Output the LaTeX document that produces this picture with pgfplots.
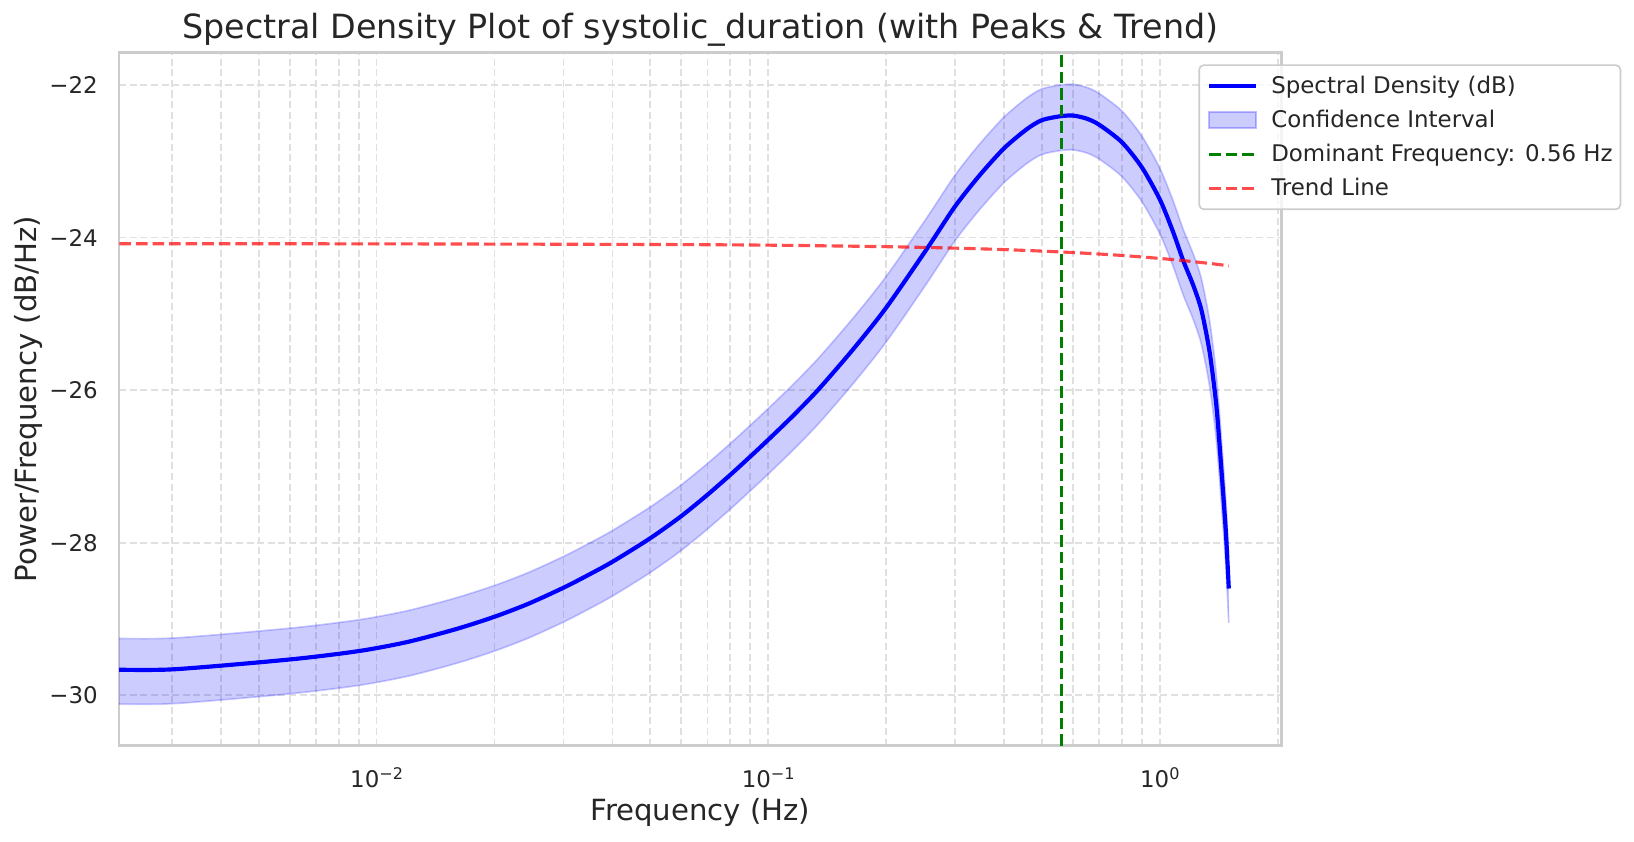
\documentclass[border=0pt]{standalone}
\usepackage{fontspec}
\setmainfont{DejaVu Sans}
\usepackage{pgfplots}
\usepackage{pgfplotstable}
\pgfplotsset{compat=1.18}
\usepgfplotslibrary{fillbetween}

\definecolor{gridc}{RGB}{224,224,224}
\definecolor{spinec}{RGB}{204,204,204}
\definecolor{txt}{RGB}{38,38,38}
\definecolor{domc}{RGB}{0,128,0}

\pgfplotstableread{
f psd lo hi
0.0020 -29.66 -30.11 -29.25
0.003 -29.66 -30.11 -29.25
0.006 -29.53 -29.98 -29.12
0.009 -29.42 -29.87 -29.01
0.012 -29.30 -29.75 -28.89
0.016 -29.13 -29.58 -28.72
0.020 -28.97 -29.42 -28.56
0.0244 -28.80 -29.25 -28.39
0.030 -28.59 -29.04 -28.18
0.0345 -28.43 -28.88 -28.02
0.040 -28.25 -28.70 -27.84
0.050 -27.94 -28.39 -27.53
0.060 -27.65 -28.10 -27.24
0.070 -27.37 -27.82 -26.96
0.080 -27.11 -27.56 -26.70
0.090 -26.87 -27.32 -26.46
0.100 -26.65 -27.10 -26.24
0.116 -26.33 -26.78 -25.92
0.1344 -25.99 -26.44 -25.58
0.165 -25.46 -25.91 -25.05
0.200 -24.92 -25.37 -24.51
0.254 -24.15 -24.60 -23.74
0.300 -23.59 -24.04 -23.18
0.347 -23.18 -23.63 -22.77
0.400 -22.83 -23.28 -22.42
0.457 -22.58 -23.03 -22.17
0.500 -22.46 -22.91 -22.05
0.556 -22.41 -22.86 -22.00
0.600 -22.40 -22.85 -21.99
0.650 -22.44 -22.89 -22.03
0.700 -22.52 -22.97 -22.11
0.800 -22.75 -23.20 -22.34
0.900 -23.08 -23.53 -22.67
1.000 -23.50 -23.95 -23.09
1.080 -23.92 -24.37 -23.51
1.147 -24.30 -24.75 -23.89
1.216 -24.62 -25.07 -24.21
1.277 -24.95 -25.40 -24.54
1.341 -25.51 -25.96 -25.10
1.395 -26.22 -26.67 -25.81
1.437 -27.06 -27.51 -26.65
1.474 -27.85 -28.30 -27.44
1.500 -28.60 -29.05 -28.19
}\spec

\pgfplotstableread{
f t
0.002 -24.080
0.01 -24.082
0.05 -24.090
0.1 -24.099
0.2 -24.119
0.3 -24.138
0.4 -24.157
0.5 -24.177
0.6 -24.196
0.7 -24.215
0.8 -24.234
0.9 -24.254
1.0 -24.273
1.1 -24.292
1.2 -24.312
1.3 -24.331
1.4 -24.350
1.5 -24.370
}\trend

\begin{document}
\begin{tikzpicture}
\begin{axis}[
  name=ax, at={(0,0)}, anchor=south west,
  scale only axis, width=558.1pt, height=332.83pt,
  xmode=log, log basis x=10,
  xmin=0.002199, xmax=2.0474, ymin=-30.66, ymax=-21.571,
  xtick={0.01,0.1,1},
  xticklabels={10\raisebox{4pt}{\fontsize{7.7}{9}\selectfont −2},
               10\raisebox{4pt}{\fontsize{7.7}{9}\selectfont −1},
               10\raisebox{4pt}{\fontsize{7.7}{9}\selectfont 0}},
  minor xtick={0.003,0.004,0.005,0.006,0.007,0.008,0.009,0.02,0.03,0.04,0.05,0.06,0.07,0.08,0.09,0.2,0.3,0.4,0.5,0.6,0.7,0.8,0.9,2},
  ytick={-30,-28,-26,-24,-22},
  yticklabels={−30,−28,−26,−24,−22},
  xmajorgrids=true, xminorgrids=true, ymajorgrids=true,
  major grid style={gridc, line width=0.85pt, dash pattern=on 3.4pt off 1.7pt},
  minor grid style={gridc, line width=0.85pt, dash pattern=on 3.4pt off 1.7pt},
  axis line style={spinec, line width=1.25pt},
  major tick length=0pt, minor tick length=0pt,
  tick label style={font=\fontsize{11}{13}\selectfont, text=txt},
  yticklabel style={inner sep=0pt, anchor=east, xshift=-10pt},
  xticklabel style={inner sep=0pt, anchor=north, yshift=-10.2pt},
  title={Spectral Density Plot of systolic\_duration (with Peaks \& Trend)},
  title style={at={(axis description cs:0.5,1.0018)}, anchor=base, font=\fontsize{16}{19}\selectfont, text=txt, inner sep=0pt},
  xlabel={Frequency (Hz)},
  xlabel style={at={(axis description cs:0.5,-0.1085)}, anchor=base, font=\fontsize{14}{17}\selectfont, text=txt, inner sep=0pt},
  ylabel={Power/Frequency (dB/Hz)},
  every axis y label/.style={at={(axis description cs:-0.0713,0.5)}, rotate=90, anchor=base, font=\fontsize{14}{17}\selectfont, text=txt, inner sep=0pt},
  legend cell align=left,
  legend style={
    at={(axis description cs:0.9283,0.9827)}, anchor=north west,
    draw=spinec, line width=0.8pt, rounded corners=2.2pt,
    fill=white, fill opacity=0.8, text opacity=1, draw opacity=1,
    inner xsep=3.7pt, inner ysep=4.85pt, row sep=5.7pt,
    font=\fontsize{11}{13}\selectfont, text=txt,
    nodes={inner sep=0pt, text height=8.8pt, text depth=1.8pt},
    /tikz/every odd column/.append style={column sep=6.3pt},
  },
  legend image code/.code={\draw[#1, rounded corners=0pt] (0pt,0pt) -- (22.6pt,0pt);},
]
\addplot[name path=hi, smooth, tension=0.45, draw=blue, draw opacity=0.2, line width=0.8pt, forget plot] table[x=f,y=hi]{\spec};
\addplot[name path=lo, smooth, tension=0.45, draw=blue, draw opacity=0.2, line width=0.8pt, forget plot] table[x=f,y=lo]{\spec};
\addplot[fill=blue, fill opacity=0.2, draw=none, forget plot] fill between[of=hi and lo];
\addplot[blue, smooth, tension=0.45, line width=2pt, forget plot] table[x=f,y=psd]{\spec};
\addplot[domc, line width=1.5pt, dash pattern=on 5.55pt off 2.4pt, forget plot] coordinates {(0.5616,-30.66) (0.5616,-21.571)};
\addplot[red, smooth, tension=0.45, draw opacity=0.7, line width=1.5pt, dash pattern=on 5.55pt off 2.4pt, forget plot] table[x=f,y=t]{\trend};

\addlegendimage{blue, line width=2pt}
\addlegendentry{Spectral Density (dB)}
\addlegendimage{legend image code/.code={\draw[fill=blue, fill opacity=0.2, draw=blue, draw opacity=0.25, line width=0.8pt, rounded corners=0pt] (0pt,-3.8pt) rectangle (22.6pt,3.8pt);}}
\addlegendentry{Confidence Interval}
\addlegendimage{domc, line width=1.5pt, dash pattern=on 5.55pt off 2.4pt}
\addlegendentry{Dominant Frequency: 0.56 Hz}
\addlegendimage{red, draw opacity=0.7, line width=1.5pt, dash pattern=on 5.55pt off 2.4pt}
\addlegendentry{Trend Line}
\end{axis}
\pgfresetboundingbox
\path (-57.12pt,-46.22pt) rectangle (727.2pt,357.93pt);
\end{tikzpicture}
\end{document}
